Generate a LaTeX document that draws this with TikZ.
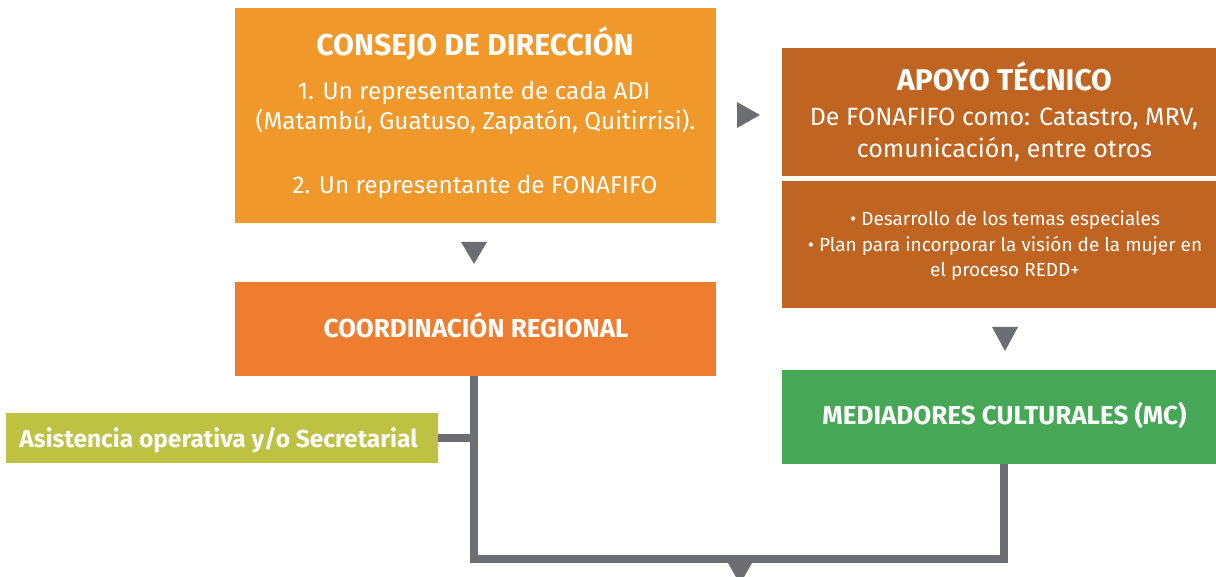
\documentclass[tikz,border=0pt]{standalone}
\usepackage{fontspec}
\setmainfont{Fira Sans}
\definecolor{cConsejo}{HTML}{F0992A}
\definecolor{cApoyo}{HTML}{BF6421}
\definecolor{cCoord}{HTML}{EF7D2F}
\definecolor{cAsist}{HTML}{BDC243}
\definecolor{cMed}{HTML}{46A857}
\definecolor{cGray}{HTML}{6D6E71}
\tikzset{
  box/.style={draw=none, inner sep=0pt, outer sep=0pt},
  txt/.style={text=white, inner sep=0pt, anchor=base},
  conn/.style={draw=cGray, line width=8pt, line join=miter, line cap=butt},
  tri/.style={fill=cGray, draw=none},
}
\newcommand{\fs}[1]{\fontsize{#1}{#1}\selectfont}
\begin{document}
\begin{tikzpicture}[x=1pt, y=-1pt]
\useasboundingbox (0,0) rectangle (1216,577);
% boxes
\node[box, fill=cConsejo, minimum width=481pt, minimum height=215pt] (consejo) at (475.5,115.5) {};
\node[box, fill=cApoyo, minimum width=434pt, minimum height=128pt] (apoyo) at (999,112) {};
\node[box, fill=cApoyo, minimum width=434pt, minimum height=127pt] (apoyob) at (999,244.5) {};
\node[box, fill=cCoord, minimum width=481pt, minimum height=94pt] (coord) at (475.5,329) {};
\node[box, fill=cAsist, minimum width=432pt, minimum height=50pt] (asist) at (222,438) {};
\node[box, fill=cMed, minimum width=434pt, minimum height=94pt] (med) at (999,417) {};
% texts
\node[txt] (t1) at (475,56) {\fs{30.2}\bfseries CONSEJO DE DIRECCIÓN};
\node[txt] (t2) at (474,100) {\fs{24.3}1. Un representante de cada ADI};
\node[txt] (t3) at (475.5,130) {\fs{24.3}(Matambú, Guatuso, Zapatón, Quitirrisi).};
\node[txt] (t4) at (475,194) {\fs{24.3}2. Un representante de FONAFIFO};
\node[txt] (a1) at (1004.5,91) {\fs{30}\bfseries APOYO TÉCNICO};
\node[txt] (a2) at (1004,126) {\fs{25}De FONAFIFO como: Catastro, MRV,};
\node[txt] (a3) at (1004.5,158) {\fs{25}comunicación, entre otros};
\node[txt] (b1) at (1005,226) {\fs{19}• Desarrollo de los temas especiales};
\node[txt] (b2) at (1005,252) {\fs{19}• Plan para incorporar la visión de la mujer en};
\node[txt] (b3) at (1005,277) {\fs{19}el proceso REDD+};
\node[txt] (c1) at (476,338) {\fs{26}\bfseries COORDINACIÓN REGIONAL};
\node[txt] (s1) at (218.5,447) {\fs{24.5}\bfseries Asistencia operativa y/o Secretarial};
\node[txt] (m1) at (1004.5,424) {\fs{26}\bfseries MEDIADORES CULTURALES (MC)};
% connectors
\coordinate (jl) at (474,559);
\coordinate (jr) at (1004,559);
\draw[conn] (coord.south -| jl) -- (jl) -- (jr) -- (med.south -| jr);
\draw[conn] (asist.east) -- (asist.east -| jl);
% arrowheads
\fill[tri] (461,242) -- (487,242) -- (474,264) -- cycle;
\fill[tri] (737,102) -- (737,128) -- (760,115) -- cycle;
\fill[tri] (992,327) -- (1018,327) -- (1005,351) -- cycle;
\fill[tri] (728,563) -- (752,563) -- (740,584) -- cycle;
\end{tikzpicture}
\end{document}
